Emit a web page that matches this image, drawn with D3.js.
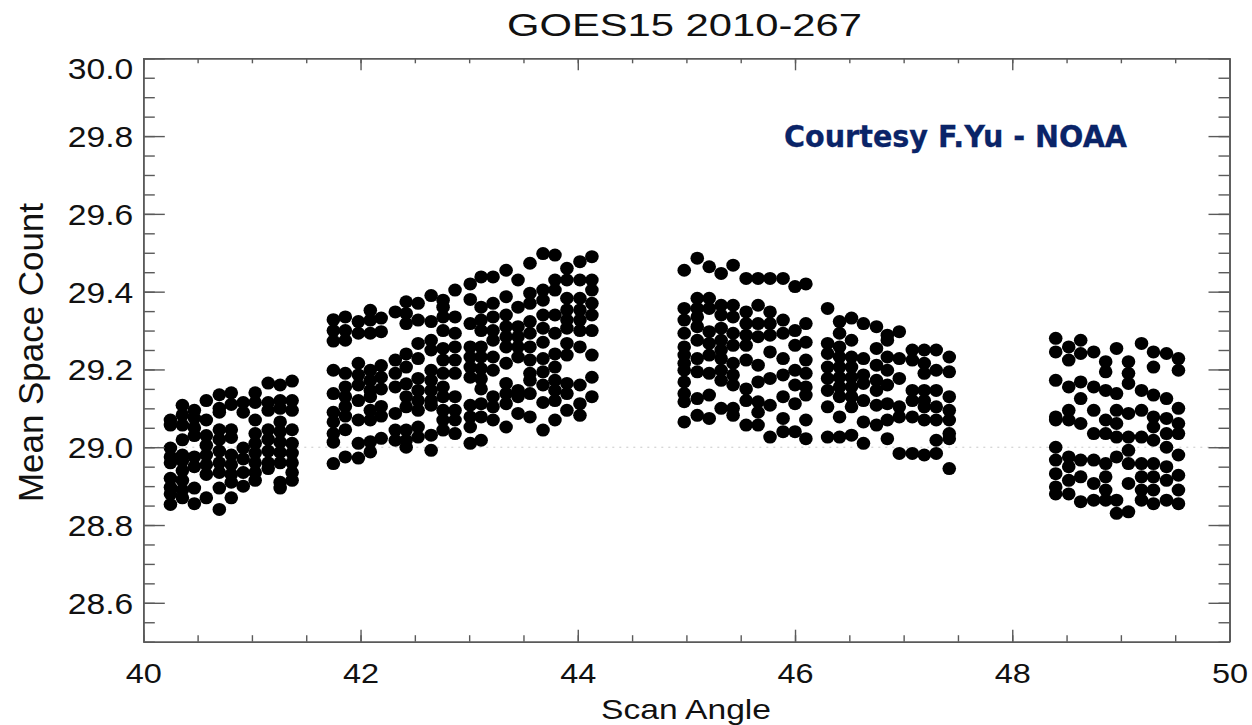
<!DOCTYPE html>
<html><head><meta charset="utf-8">
<script src="https://cdn.jsdelivr.net/npm/d3@7"></script>
<style>body{margin:0;background:#fff}svg{display:block}</style>
</head><body>
<svg id="c" width="1252" height="725"></svg>
<script>
const title = "GOES15 2010-267";
const xLabel = "Scan Angle";
const yLabel = "Mean Space Count";
const credit = "Courtesy F.Yu - NOAA";
const xTicks = [40, 42, 44, 46, 48, 50];
const yTicks = [28.6, 28.8, 29.0, 29.2, 29.4, 29.6, 29.8, 30.0];

const g1X = [40.25, 40.36, 40.47, 40.58, 40.70, 40.81, 40.92, 41.03, 41.15, 41.26, 41.37];
const g1Y = [
 [29.07, 29.057, 28.998, 28.975, 28.96, 28.92, 28.897, 28.88, 28.853],
 [29.108, 29.083, 29.057, 29.019, 28.98, 28.965, 28.94, 28.915, 28.89, 28.87],
 [29.095, 29.075, 29.05, 29.03, 28.975, 28.95, 28.895, 28.855],
 [29.12, 29.07, 29.03, 29.005, 28.98, 28.955, 28.93, 28.87],
 [29.135, 29.10, 29.09, 29.045, 29.02, 28.99, 28.96, 28.935, 28.895, 28.84],
 [29.14, 29.11, 29.045, 29.025, 28.98, 28.955, 28.93, 28.91, 28.87],
 [29.115, 29.09, 28.998, 28.97, 28.935, 28.9],
 [29.14, 29.115, 29.07, 29.035, 29.01, 28.985, 28.96, 28.935, 28.915],
 [29.165, 29.115, 29.095, 29.045, 29.02, 28.99, 28.96, 28.945],
 [29.16, 29.12, 29.10, 29.065, 29.04, 29.013, 28.987, 28.96, 28.91, 28.895],
 [29.17, 29.12, 29.095, 29.045, 29.01, 28.985, 28.96, 28.935, 28.915]
];
const g2X = [41.75, 41.86, 41.98, 42.09, 42.19, 42.32, 42.42, 42.53, 42.65, 42.76, 42.87, 43.01, 43.11, 43.22, 43.34, 43.45, 43.56, 43.68, 43.79, 43.90, 44.02, 44.13];
const g2Y = [
 [29.328, 29.30, 29.273, 29.198, 29.138, 29.09, 29.065, 29.035, 29.013, 28.958],
 [29.335, 29.30, 29.275, 29.19, 29.155, 29.13, 29.105, 29.08, 29.045, 28.975],
 [29.323, 29.293, 29.216, 29.186, 29.16, 29.12, 29.07, 29.01, 28.972],
 [29.352, 29.327, 29.293, 29.198, 29.172, 29.146, 29.13, 29.095, 29.07, 29.014, 28.988],
 [29.332, 29.297, 29.21, 29.18, 29.15, 29.105, 29.08, 29.023],
 [29.348, 29.224, 29.19, 29.155, 29.087, 29.044, 29.018],
 [29.374, 29.344, 29.318, 29.24, 29.206, 29.163, 29.13, 29.104, 29.044, 29.018, 29.0],
 [29.37, 29.327, 29.267, 29.228, 29.177, 29.146, 29.12, 29.095, 29.052, 29.026],
 [29.39, 29.323, 29.275, 29.25, 29.198, 29.172, 29.146, 29.12, 29.108, 29.031, 28.992],
 [29.378, 29.36, 29.335, 29.30, 29.254, 29.224, 29.19, 29.155, 29.13, 29.095, 29.07, 29.044],
 [29.404, 29.335, 29.293, 29.258, 29.224, 29.19, 29.13, 29.095, 29.07, 29.035],
 [29.42, 29.38, 29.318, 29.258, 29.232, 29.206, 29.18, 29.108, 29.078, 29.052, 29.01],
 [29.438, 29.36, 29.327, 29.30, 29.258, 29.232, 29.202, 29.176, 29.15, 29.112, 29.078, 29.018],
 [29.438, 29.37, 29.335, 29.30, 29.275, 29.232, 29.198, 29.13, 29.104, 29.07],
 [29.455, 29.387, 29.34, 29.31, 29.284, 29.258, 29.216, 29.164, 29.138, 29.112, 29.052],
 [29.43, 29.36, 29.31, 29.284, 29.258, 29.232, 29.146, 29.13, 29.087],
 [29.473, 29.396, 29.37, 29.323, 29.293, 29.258, 29.224, 29.19, 29.172, 29.138, 29.078],
 [29.498, 29.404, 29.378, 29.34, 29.306, 29.27, 29.228, 29.194, 29.16, 29.115, 29.044],
 [29.494, 29.43, 29.404, 29.34, 29.293, 29.24, 29.206, 29.172, 29.146, 29.12, 29.07],
 [29.46, 29.43, 29.383, 29.353, 29.327, 29.306, 29.267, 29.237, 29.164, 29.138, 29.095],
 [29.477, 29.43, 29.383, 29.353, 29.327, 29.30, 29.258, 29.16, 29.112, 29.082],
 [29.49, 29.43, 29.404, 29.37, 29.34, 29.30, 29.237, 29.18, 29.13]
];
const g3X = [44.98, 45.10, 45.21, 45.32, 45.43, 45.55, 45.66, 45.77, 45.89, 46.00, 46.10, 46.30, 46.41, 46.52, 46.63, 46.75, 46.85, 46.96, 47.08, 47.19, 47.30, 47.42];
const g3Y = [
 [29.455, 29.357, 29.327, 29.293, 29.258, 29.237, 29.216, 29.198, 29.168, 29.138, 29.117, 29.065],
 [29.486, 29.383, 29.357, 29.335, 29.31, 29.275, 29.228, 29.194, 29.125, 29.082],
 [29.464, 29.383, 29.357, 29.297, 29.267, 29.237, 29.19, 29.134, 29.074],
 [29.447, 29.365, 29.34, 29.306, 29.275, 29.25, 29.228, 29.198, 29.172, 29.1],
 [29.468, 29.365, 29.335, 29.293, 29.262, 29.216, 29.186, 29.16, 29.1, 29.082],
 [29.434, 29.348, 29.318, 29.288, 29.262, 29.224, 29.15, 29.12, 29.057],
 [29.434, 29.365, 29.318, 29.284, 29.211, 29.168, 29.117, 29.09, 29.057],
 [29.434, 29.348, 29.318, 29.288, 29.245, 29.177, 29.108, 29.026],
 [29.434, 29.327, 29.293, 29.228, 29.186, 29.13, 29.074, 29.04],
 [29.413, 29.30, 29.262, 29.198, 29.16, 29.112, 29.04],
 [29.42, 29.318, 29.27, 29.224, 29.19, 29.155, 29.134, 29.07, 29.022],
 [29.357, 29.267, 29.241, 29.206, 29.177, 29.146, 29.104, 29.026],
 [29.323, 29.293, 29.258, 29.232, 29.206, 29.18, 29.155, 29.13, 29.078, 29.026],
 [29.332, 29.275, 29.232, 29.206, 29.18, 29.155, 29.13, 29.104, 29.031],
 [29.318, 29.228, 29.186, 29.164, 29.12, 29.065, 29.01],
 [29.31, 29.254, 29.211, 29.172, 29.146, 29.108, 29.057],
 [29.288, 29.275, 29.232, 29.198, 29.16, 29.112, 29.07, 29.022],
 [29.297, 29.228, 29.177, 29.104, 29.078, 28.984],
 [29.25, 29.224, 29.146, 29.12, 29.078, 28.984],
 [29.25, 29.216, 29.19, 29.146, 29.12, 29.104, 29.07, 28.98],
 [29.25, 29.198, 29.146, 29.104, 29.07, 29.018, 28.984],
 [29.232, 29.194, 29.13, 29.095, 29.07, 29.035, 29.022, 28.945]
];
const g4X = [48.40, 48.52, 48.63, 48.75, 48.86, 48.96, 49.07, 49.19, 49.30, 49.42, 49.53];
const g4Y = [
 [29.28, 29.245, 29.172, 29.078, 29.07, 29.0, 28.967, 28.932, 28.898, 28.88],
 [29.258, 29.224, 29.155, 29.095, 29.07, 28.975, 28.95, 28.915, 28.88],
 [29.275, 29.241, 29.168, 29.125, 29.061, 28.967, 28.924, 28.86],
 [29.245, 29.155, 29.095, 29.035, 28.967, 28.907, 28.864],
 [29.22, 29.194, 29.146, 29.07, 29.035, 28.958, 28.924, 28.89, 28.864],
 [29.254, 29.138, 29.095, 29.061, 29.026, 28.975, 28.864, 28.83],
 [29.22, 29.19, 29.164, 29.087, 29.026, 28.992, 28.958, 28.907, 28.834],
 [29.267, 29.146, 29.095, 29.026, 28.958, 28.924, 28.89, 28.864],
 [29.245, 29.206, 29.134, 29.078, 29.052, 29.018, 28.958, 28.924, 28.89, 28.855],
 [29.241, 29.125, 29.074, 29.035, 29.0, 28.95, 28.915, 28.864],
 [29.228, 29.198, 29.1, 29.061, 29.035, 28.98, 28.928, 28.89, 28.855]
];

const points = [];
[[g1X, g1Y], [g2X, g2Y], [g3X, g3Y], [g4X, g4Y]].forEach(([xs, ys]) => {
  xs.forEach((x, i) => ys[i].forEach(y => points.push({x, y})));
});

const L = 143.3, R = 1229.5, T = 58.3, B = 641.7;
const SX = 1.16;
const axisColor = "#5a5a5a";
const font = "'Liberation Sans', Arial, Helvetica, sans-serif";

const svg = d3.select("#c");
const x = d3.scaleLinear().domain([40, 50]).range([L, R]);
const y = d3.scaleLinear().domain([28.5, 30.0]).range([B, T]);

svg.append("line")
  .attr("x1", L).attr("x2", R).attr("y1", y(29.0)).attr("y2", y(29.0))
  .attr("stroke", "#c8c8c8").attr("stroke-width", 1).attr("stroke-dasharray", "2,5");

svg.append("g").selectAll("ellipse").data(points).join("ellipse")
  .attr("cx", d => x(d.x)).attr("cy", d => y(d.y)).attr("rx", 6.8).attr("ry", 6.5).attr("fill", "#000");

const xMinor = d3.range(40, 50.001, 0.5);
const yMinor = d3.range(28.5, 30.0001, 0.05).map(v => +v.toFixed(2));

function styleAxis(g) {
  g.select(".domain").attr("stroke", axisColor).attr("stroke-width", 1.6);
  g.selectAll(".tick line").attr("stroke", axisColor).attr("stroke-width", 1.4);
}

svg.append("g").attr("transform", `translate(0,${B})`)
  .call(d3.axisBottom(x).tickValues(xMinor).tickSize(-6.5).tickFormat("").tickSizeOuter(0)).call(styleAxis);
const bx = svg.append("g").attr("transform", `translate(0,${B})`)
  .call(d3.axisBottom(x).tickValues(xTicks).tickSize(-12).tickSizeOuter(0).tickFormat(d3.format("d"))).call(styleAxis);
bx.selectAll("text").attr("y", 41.5).attr("dy", 0).attr("fill", "#111")
  .attr("font-family", font).attr("font-size", 28).attr("transform", `scale(${SX},1)`);
svg.append("g").attr("transform", `translate(0,${T})`)
  .call(d3.axisTop(x).tickValues(xMinor).tickSize(-5).tickFormat("").tickSizeOuter(0)).call(styleAxis);
svg.append("g").attr("transform", `translate(0,${T})`)
  .call(d3.axisTop(x).tickValues(xTicks).tickSize(-12).tickFormat("").tickSizeOuter(0)).call(styleAxis);
svg.append("g").attr("transform", `translate(${L},0)`)
  .call(d3.axisLeft(y).tickValues(yMinor).tickSize(-11.5).tickFormat("").tickSizeOuter(0)).call(styleAxis);
const ly = svg.append("g").attr("transform", `translate(${L},0)`)
  .call(d3.axisLeft(y).tickValues(yTicks).tickSize(-21.5).tickSizeOuter(0).tickFormat(d3.format(".1f"))).call(styleAxis);
ly.selectAll("text").attr("x", -10 / SX).attr("dy", "0.36em").attr("fill", "#111")
  .attr("font-family", font).attr("font-size", 29).attr("transform", `scale(${SX},1)`)
  .attr("y", d => d === 30.0 ? 10 : 0);
svg.append("g").attr("transform", `translate(${R},0)`)
  .call(d3.axisRight(y).tickValues(yMinor).tickSize(-11).tickFormat("").tickSizeOuter(0)).call(styleAxis);
svg.append("g").attr("transform", `translate(${R},0)`)
  .call(d3.axisRight(y).tickValues(yTicks).tickSize(-21).tickFormat("").tickSizeOuter(0)).call(styleAxis);

svg.append("text").attr("x", 507).attr("y", 36).attr("font-family", font).attr("font-size", 31)
  .attr("fill", "#111").attr("textLength", 355).attr("lengthAdjust", "spacingAndGlyphs").text(title);
svg.append("text").attr("x", 601).attr("y", 719).attr("font-family", font).attr("font-size", 28)
  .attr("fill", "#111").attr("textLength", 170).attr("lengthAdjust", "spacingAndGlyphs").text(xLabel);
svg.append("text").attr("transform", `translate(42.5,502) scale(${SX},1) rotate(-90)`)
  .attr("font-family", font).attr("font-size", 30).attr("fill", "#111")
  .attr("textLength", 299).attr("lengthAdjust", "spacingAndGlyphs").text(yLabel);
svg.append("text").attr("x", 784).attr("y", 147)
  .attr("font-family", "'DejaVu Sans', Verdana, Tahoma, sans-serif").attr("font-weight", "bold")
  .attr("font-size", 31).attr("fill", "#0a2468").attr("stroke", "#0a2468").attr("stroke-width", 0.3)
  .attr("textLength", 343).attr("lengthAdjust", "spacingAndGlyphs").text(credit);
</script>
</body></html>
